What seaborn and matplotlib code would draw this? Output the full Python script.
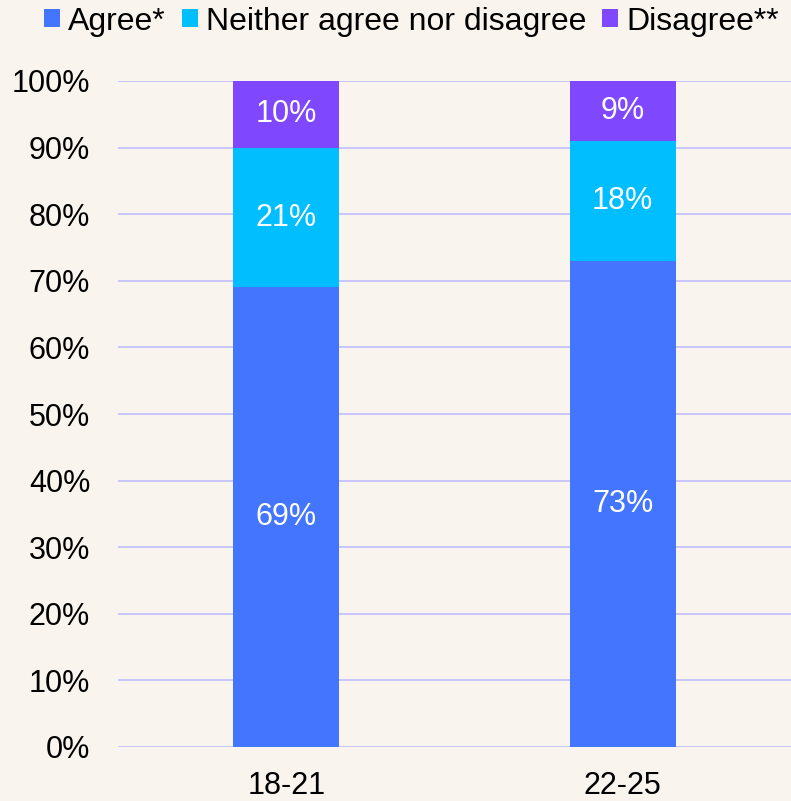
import matplotlib
matplotlib.use("Agg")
from matplotlib import pyplot as plt
from matplotlib.patches import Patch
import pandas as pd
import seaborn as sns

# data
age_groups = ['18-21', '22-25']
agree = [69, 73]
neither = [21, 18]
disagree = [10, 9]
series_names = ['Agree*', 'Neither agree nor disagree', 'Disagree**']
y_ticks = [0, 10, 20, 30, 40, 50, 60, 70, 80, 90, 100]

colours = ['#4475FF', '#00BEFF', '#7F48FF']
bg = '#F9F4EE'
grid_col = '#C6C0FC'

sns.set_theme(style='white')
plt.rcParams['font.family'] = ['Liberation Sans', 'DejaVu Sans']
plt.rcParams['text.color'] = 'black'

df = pd.DataFrame({'age': age_groups, 'agree': agree,
                   'neither': neither, 'disagree': disagree})
df['top_neither'] = df['agree'] + df['neither']
df['top_disagree'] = df['top_neither'] + df['disagree']

fig = plt.figure(figsize=(7.91, 8.01), dpi=100, facecolor=bg)
ax = fig.add_axes([118 / 791, 54 / 801, 673 / 791, 666 / 801])
ax.set_facecolor(bg)

# stacked bars: draw cumulative heights back to front
for col, c in zip(['top_disagree', 'top_neither', 'agree'], colours[::-1]):
    sns.barplot(data=df, x='age', y=col, color=c, width=0.314,
                saturation=1, linewidth=0, ax=ax, zorder=3)

# segment labels
for i, row in df.iterrows():
    bottoms = [0, row['agree'], row['top_neither']]
    for b, v in zip(bottoms, [row['agree'], row['neither'], row['disagree']]):
        ax.text(i, b + v / 2, f'{v}%', ha='center', va='center',
                color='white', fontsize=22, zorder=4)

ax.set_xlim(-0.5, 1.5)
ax.set_ylim(0, 100)
ax.set_yticks(y_ticks)
ax.set_yticklabels([f'{t}%' for t in y_ticks])
ax.grid(axis='y', color=grid_col, linewidth=1.3, zorder=0)
ax.set_axisbelow(True)
ax.set_xlabel('')
ax.set_ylabel('')
for s in ax.spines.values():
    s.set_visible(False)
ax.tick_params(axis='y', length=0, pad=20, labelsize=22, labelcolor='black')
ax.tick_params(axis='x', length=0, pad=17, labelsize=22, labelcolor='black')

handles = [Patch(facecolor=c, edgecolor='none') for c in colours]
fig.legend(handles, series_names, loc='center', bbox_to_anchor=(0.52, 0.973),
           ncol=3, frameon=False, fontsize=23, handlelength=0.5,
           handleheight=0.5, handletextpad=0.25, columnspacing=0.5,
           borderpad=0, borderaxespad=0, labelcolor='black')

fig.savefig('out.png', dpi=100, facecolor=bg)
